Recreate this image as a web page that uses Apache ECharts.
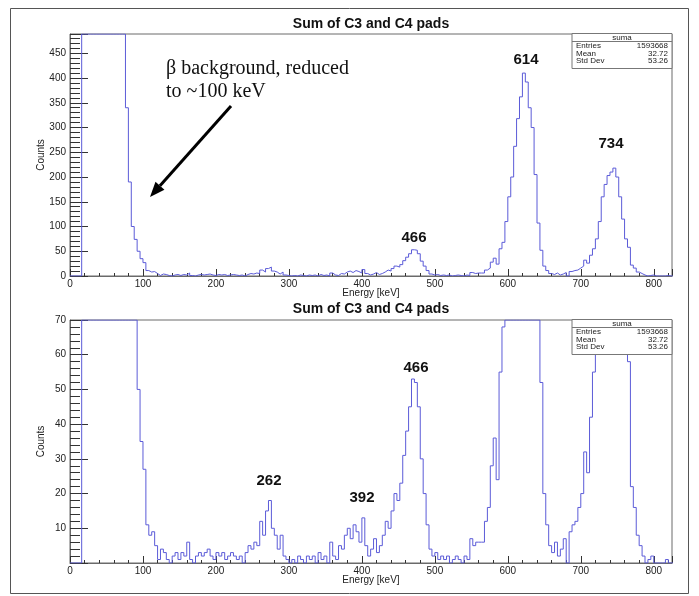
<!DOCTYPE html>
<html>
<head>
<meta charset="utf-8">
<script src="https://cdn.jsdelivr.net/npm/echarts@6/dist/echarts.min.js"></script>
<style>
html,body{margin:0;padding:0;background:#fff;}
#chart{width:699px;height:596px;}
</style>
</head>
<body>
<div id="chart"></div>
<script>
// ---- data (histogram, 4 keV bins starting at 0 keV) ----
const binWidth = 4;
const counts = [
  0,0,0,0,
  9800,31000,52000,68000,74000,76000,71000,64000,55000,44000,32000,20000,9500,3100,900,
  340,190,100,74,50,35,27,11,8,9,5,
  1,4,3,1,0,2,3,1,3,2,6,1,0,2,3,2,3,4,2,1,3,2,3,1,2,3,2,1,2,0,
  3,5,4,6,5,12,8,15,18,10,8,4,8,2,1,
  0,1,0,2,1,0,2,1,2,0,3,1,2,0,6,2,1,5,4,8,10,7,11,9,6,
  13,5,2,4,7,3,5,8,12,10,15,20,18,23,31,38,45,53,52,45,30,20,11,4,2,
  3,1,2,1,2,0,1,2,1,0,2,1,7,5,6,6,6,12,16,28,36,24,55,68,110,
  160,200,262,318,362,410,392,340,300,205,107,52,20,11,5,3,6,2,4,7,0,9,11,12,16,
  20,32,26,42,55,75,110,160,185,203,210,218,200,160,115,75,58,22,16,8,5,2,0,1,2,
  0,0,0,0,1,0,0
];
const titleText = 'Sum of C3 and C4 pads';
const xTitle = 'Energy [keV]';
const yTitle = 'Counts';
const xTicks = [0, 100, 200, 300, 400, 500, 600, 700, 800];
const statsName = 'suma';
const statsRows = [['Entries','1593668'],['Mean','32.72'],['Std Dev','53.26']];
const topPeakLabels = ['614','734','466'];
const bottomPeakLabels = ['466','262','392'];
const noteLines = ['\u03b2 background, reduced','to ~100 keV'];

// ---- panel ranges ----
const xMax = 825;
const yMaxTop = 489, yMaxBottom = 70;

// ---- build step data (bins above the frame are drawn at the frame top, as ROOT does) ----
function stepData(ymax) {
  const d = counts.map((c, i) => [i * binWidth, Math.min(c, ymax)]);
  d.push([counts.length * binWidth, Math.min(counts[counts.length - 1], ymax)]);
  return d;
}

const FONT = 'Liberation Sans, Arial, Helvetica, sans-serif';
const lineColor = '#5b5bd8';
const frameColor = '#6a6a6a';

const L = 70, W = 602;
const T1 = 34, H1 = 242;
const T2 = 320, H2 = 243;

function xAxisDef(gi) {
  return {
    type: 'value', gridIndex: gi, min: 0, max: xMax, interval: 100,
    name: xTitle, nameLocation: 'middle', nameGap: 12, nameMoveOverlap: false,
    nameTextStyle: {fontFamily: FONT, fontSize: 10, color: '#222'},
    axisLine: {show: true, onZero: false, lineStyle: {color: frameColor, width: 1}},
    axisTick: {show: true, inside: true, length: 7, lineStyle: {color: '#333'}},
    minorTick: {show: true, splitNumber: 5, length: 3, lineStyle: {color: '#333'}},
    axisLabel: {fontFamily: FONT, fontSize: 10, color: '#222', margin: 3,
      formatter: v => (xTicks.indexOf(v) >= 0 ? String(v) : '')},
    splitLine: {show: false}, minorSplitLine: {show: false}
  };
}
function yAxisDef(gi, max, interval, showZero) {
  return {
    type: 'value', gridIndex: gi, min: 0, max: max, interval: interval,
    name: yTitle, nameLocation: 'middle', nameGap: 24, nameMoveOverlap: false,
    nameTextStyle: {fontFamily: FONT, fontSize: 10, color: '#222'},
    axisLine: {show: true, lineStyle: {color: frameColor, width: 1}},
    axisTick: {show: true, inside: true, length: 18, lineStyle: {color: '#333'}},
    minorTick: {show: true, splitNumber: 5, length: 10, lineStyle: {color: '#333'}},
    axisLabel: {fontFamily: FONT, fontSize: 10, color: '#222', margin: 4,
      formatter: v => ((v % interval === 0 && (showZero || v !== 0)) ? String(v) : '')},
    splitLine: {show: false}, minorSplitLine: {show: false}
  };
}

function statsBox(y) {
  const x = 572, w = 100, h = 35;
  const els = [
    {type: 'rect', shape: {x: x, y: y, width: w, height: h},
     style: {fill: '#fff', stroke: '#777', lineWidth: 1}, z: 100},
    {type: 'line', shape: {x1: x, y1: y + 8, x2: x + w, y2: y + 8},
     style: {stroke: '#777', lineWidth: 1}, z: 101},
    {type: 'text', x: x + w / 2, y: y + 4, z: 101,
     style: {text: statsName, font: '8px ' + FONT, fill: '#222', textAlign: 'center', textVerticalAlign: 'middle'}}
  ];
  statsRows.forEach((r, i) => {
    const ty = y + 12.5 + i * 7.5;
    els.push({type: 'text', x: x + 4, y: ty, z: 101,
      style: {text: r[0], font: '8px ' + FONT, fill: '#222', textAlign: 'left', textVerticalAlign: 'middle'}});
    els.push({type: 'text', x: x + w - 4, y: ty, z: 101,
      style: {text: r[1], font: '8px ' + FONT, fill: '#222', textAlign: 'right', textVerticalAlign: 'middle'}});
  });
  return els;
}

function boldText(t, x, y, size) {
  return {type: 'text', x: x, y: y, z: 90,
    style: {text: t, font: 'bold ' + size + 'px ' + FONT, fill: '#111', textAlign: 'center', textVerticalAlign: 'middle'}};
}

// arrow geometry
const ax1 = 231, ay1 = 106, ax2 = 150, ay2 = 197;
const dx = ax2 - ax1, dy = ay2 - ay1, len = Math.sqrt(dx * dx + dy * dy);
const ux = dx / len, uy = dy / len, nx = -uy, ny = ux;
const hl = 15, hw = 6;
const bx = ax2 - ux * hl, by = ay2 - uy * hl;

const graphics = [
  {type: 'rect', shape: {x: 10.5, y: 8.5, width: 678, height: 585},
   style: {fill: 'none', stroke: '#555', lineWidth: 1}, z: 1, silent: true},
  boldText(titleText, 371, 24, 14),
  boldText(titleText, 371, 309, 14),
  ...statsBox(T1 - 0.5),
  ...statsBox(T2 - 0.5),
  boldText(topPeakLabels[0], 526, 60, 15),
  boldText(topPeakLabels[1], 611, 144, 15),
  boldText(topPeakLabels[2], 414, 238, 15),
  boldText(bottomPeakLabels[0], 416, 368, 15),
  boldText(bottomPeakLabels[1], 269, 481, 15),
  boldText(bottomPeakLabels[2], 362, 498, 15),
  {type: 'text', x: 166, y: 69, z: 90,
   style: {text: noteLines[0], font: '20px Liberation Serif, Times New Roman, serif', fill: '#111', textAlign: 'left', textVerticalAlign: 'middle'}},
  {type: 'text', x: 166, y: 92, z: 90,
   style: {text: noteLines[1], font: '20px Liberation Serif, Times New Roman, serif', fill: '#111', textAlign: 'left', textVerticalAlign: 'middle'}},
  {type: 'line', shape: {x1: ax1, y1: ay1, x2: bx, y2: by}, z: 90,
   style: {stroke: '#000', lineWidth: 3}},
  {type: 'polygon', z: 90,
   shape: {points: [[ax2, ay2], [bx + nx * hw, by + ny * hw], [bx - nx * hw, by - ny * hw]]},
   style: {fill: '#000'}}
];

const chart = echarts.init(document.getElementById('chart'), null, {renderer: 'canvas'});
chart.setOption({
  animation: false,
  backgroundColor: '#fff',
  grid: [
    {left: L, top: T1, width: W, height: H1, show: true, borderColor: frameColor, borderWidth: 1, backgroundColor: '#fff', outerBoundsMode: 'none', containLabel: false},
    {left: L, top: T2, width: W, height: H2, show: true, borderColor: frameColor, borderWidth: 1, backgroundColor: '#fff', outerBoundsMode: 'none', containLabel: false}
  ],
  xAxis: [xAxisDef(0), xAxisDef(1)],
  yAxis: [yAxisDef(0, yMaxTop, 50, true), yAxisDef(1, yMaxBottom, 10, false)],
  series: [
    {type: 'line', xAxisIndex: 0, yAxisIndex: 0, data: stepData(yMaxTop), step: 'end', showSymbol: false,
     symbol: 'none', clip: true, lineStyle: {color: lineColor, width: 1}, silent: true, z: 3},
    {type: 'line', xAxisIndex: 1, yAxisIndex: 1, data: stepData(yMaxBottom), step: 'end', showSymbol: false,
     symbol: 'none', clip: true, lineStyle: {color: lineColor, width: 1}, silent: true, z: 3}
  ],
  graphic: graphics
});
</script>
</body>
</html>
